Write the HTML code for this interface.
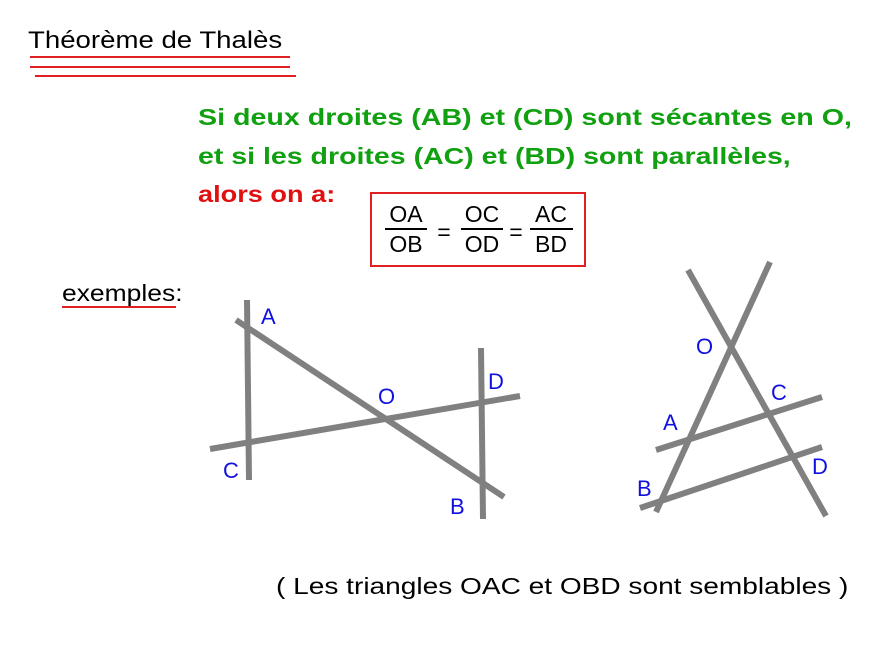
<!DOCTYPE html>
<html><head><meta charset="utf-8"><style>
body{margin:0;width:896px;height:662px;background:#fff;position:relative;overflow:hidden;font-family:"Liberation Sans",sans-serif}
.t{position:absolute;white-space:nowrap;transform-origin:0 0}
</style></head><body>
<svg width="896" height="662" style="position:absolute;left:0;top:0">
<g stroke="#e02020" stroke-width="2">
<line x1="30" y1="57" x2="290" y2="57"/><line x1="30" y1="67" x2="290" y2="67"/><line x1="35" y1="76" x2="296" y2="76"/>
<line x1="62" y1="307" x2="176" y2="307"/>
</g>
<rect x="371" y="193" width="214" height="73" fill="none" stroke="#e02020" stroke-width="2"/>
<g stroke="#000" stroke-width="2">
<line x1="385" y1="229" x2="427" y2="229"/><line x1="461" y1="229" x2="503" y2="229"/><line x1="530" y1="229" x2="573" y2="229"/>
</g>
<g stroke="#808080" stroke-width="6" stroke-linecap="butt">
<line x1="247" y1="300" x2="249" y2="480"/>
<line x1="236" y1="320" x2="504" y2="497"/>
<line x1="210" y1="449" x2="520" y2="396"/>
<line x1="481" y1="348" x2="483" y2="519"/>
<line x1="770" y1="262" x2="656" y2="512"/>
<line x1="688" y1="270" x2="826" y2="516"/>
<line x1="656" y1="450" x2="822" y2="397"/>
<line x1="640" y1="508" x2="822" y2="447"/>
</g>
<g fill="#1010e0" font-family="Liberation Sans, sans-serif" font-size="22">
<text x="261" y="324">A</text><text x="378" y="404">O</text><text x="488" y="389">D</text><text x="223" y="478">C</text><text x="450" y="514">B</text>
<text x="696" y="354">O</text><text x="771" y="400">C</text><text x="663" y="430">A</text><text x="812" y="474">D</text><text x="637" y="496">B</text>
</g>
<g font-family="Liberation Sans, sans-serif" font-size="23" fill="#000" text-anchor="middle">
<text x="406" y="222">OA</text><text x="406" y="252">OB</text>
<text x="482" y="222">OC</text><text x="482" y="252">OD</text>
<text x="551" y="222">AC</text><text x="551" y="252">BD</text>
<text x="444" y="240">=</text><text x="516" y="240">=</text>
</g>
</svg>
<div class="t" style="left:28px;top:27px;font-size:24px;transform:scaleX(1.15)">Théorème de Thalès</div>
<div class="t" style="left:198px;top:104px;font-size:23px;font-weight:bold;color:#10a010;transform:scaleX(1.245)">Si deux droites (AB) et (CD) sont sécantes en O,</div>
<div class="t" style="left:198px;top:143px;font-size:23px;font-weight:bold;color:#10a010;transform:scaleX(1.24)">et si les droites (AC) et (BD) sont parallèles,</div>
<div class="t" style="left:198px;top:181px;font-size:23px;font-weight:bold;color:#e01010;transform:scaleX(1.18)">alors on a:</div>
<div class="t" style="left:62px;top:280px;font-size:23px;transform:scaleX(1.15)">exemples:</div>
<div class="t" style="left:276px;top:573px;font-size:23px;transform:scaleX(1.22)">( Les triangles OAC et OBD sont semblables )</div>
</body></html>
